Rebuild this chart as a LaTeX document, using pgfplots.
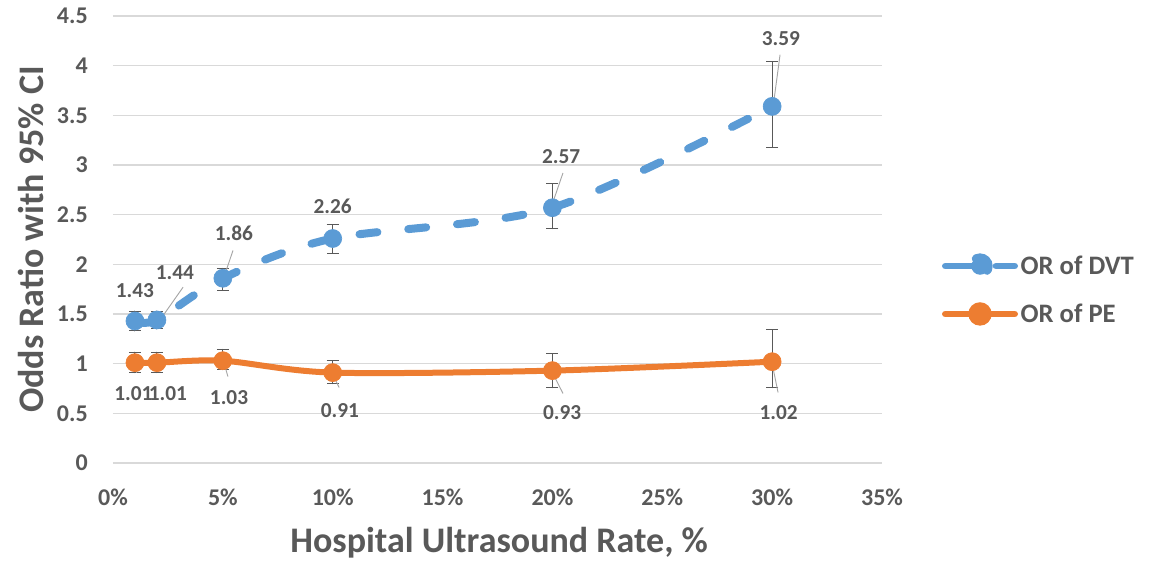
\documentclass[border=0pt]{standalone}
\usepackage{pgfplots}
\usepackage{pgfplotstable}
\pgfplotsset{compat=1.18}
\usepackage{fontspec}
\setmainfont{Carlito}
\definecolor{dvt}{HTML}{5B9BD5}
\definecolor{pe}{HTML}{ED7D31}
\definecolor{txt}{HTML}{595959}
\definecolor{gridc}{HTML}{D9D9D9}
\definecolor{errc}{HTML}{595959}
\definecolor{leader}{HTML}{A6A6A6}

\pgfplotstableread{
x  y    ep    em
1  1.43 0.10  0.10
2  1.44 0.09  0.09
5  1.86 0.10  0.12
10 2.26 0.14  0.15
20 2.57 0.24  0.21
30 3.59 0.45  0.41
}\dvtdata

\pgfplotstableread{
x  y    ep    em
1  1.01 0.105 0.10
2  1.01 0.105 0.10
5  1.03 0.115 0.09
10 0.91 0.12  0.11
20 0.93 0.17  0.17
30 1.02 0.32  0.26
}\pedata

\begin{document}
\begin{tikzpicture}
\useasboundingbox (-84.75pt,-76.5pt) rectangle (780pt,347.25pt);
\begin{axis}[
  at={(0,0)}, anchor=south west,
  scale only axis,
  width=576.75pt, height=335.25pt,
  xmin=0, xmax=35, ymin=0, ymax=4.5,
  xtick={0,5,...,35},
  ytick={0,0.5,...,4.5},
  xticklabel={\pgfmathprintnumber{\tick}\%},
  /pgf/number format/assume math mode=true,
  ymajorgrids,
  grid style={gridc, line width=1pt},
  axis line style={draw=none},
  tick style={draw=none},
  ticklabel style={font=\bfseries\fontsize{18}{21}\selectfont, text=txt},
  yticklabel style={anchor=east, inner sep=0pt, xshift=-18.75pt},
  xticklabel style={anchor=center, inner sep=0pt, yshift=-26pt},
  xlabel={Hospital Ultrasound Rate, \%},
  ylabel={Odds Ratio with 95\% CI},
  xlabel style={at={(axis description cs:0.502,-0.179)}, anchor=center, font=\bfseries\fontsize{27}{31}\selectfont, text=txt},
  ylabel style={at={(axis description cs:-0.106,0.5)}, anchor=center, font=\bfseries\fontsize{27}{31}\selectfont, text=txt},
  legend style={at={(1.0725,0.387)}, anchor=west, draw=none, fill=none,
    font=\bfseries\fontsize{20}{24}\selectfont, text=txt, row sep=16.5pt,
    nodes={inner sep=2pt}},
  legend cell align=left,
  clip=false,
]
\addplot[dvt, line width=6pt, line cap=round, dash pattern=on 13.5pt off 23.25pt, smooth, tension=0.5,
  mark=*, mark size=6.75pt, mark options={solid, fill=dvt, draw=dvt, line width=0.5pt},
  legend image code/.code={
    \draw[dvt, solid, line width=5pt, line cap=round] (0pt,0pt) -- (25pt,0pt);
    \draw[dvt, solid, line width=5pt, line cap=round] (38pt,0pt) -- (52pt,0pt);
    \fill[dvt] (26pt,0pt) circle (6.5pt);},
  error bars/.cd, y dir=both, y explicit,
  error bar style={errc, line width=0.75pt, solid},
  error mark options={rotate=90, errc, mark size=4.5pt, line width=0.75pt, solid}]
  table[x=x, y=y, y error plus=ep, y error minus=em] {\dvtdata};
\addlegendentry{OR of DVT}
\addplot[pe, line width=4.5pt, line cap=round, smooth, tension=0.5,
  mark=*, mark size=6.75pt, mark options={solid, fill=pe, draw=pe, line width=0.5pt},
  legend image code/.code={
    \draw[pe, solid, line width=5pt, line cap=round] (0pt,0pt) -- (52pt,0pt);
    \fill[pe] (26pt,0pt) circle (6.5pt);},
  error bars/.cd, y dir=both, y explicit,
  error bar style={errc, line width=0.75pt, solid},
  error mark options={rotate=90, errc, mark size=4.5pt, line width=0.75pt, solid}]
  table[x=x, y=y, y error plus=ep, y error minus=em] {\pedata};
\addlegendentry{OR of PE}

% leader lines
\draw[leader, line width=0.7pt] (axis cs:3.19,1.77) -- (axis cs:2.14,1.44);
\draw[leader, line width=0.7pt] (axis cs:5.46,2.14) -- (axis cs:5.05,1.87);
\draw[leader, line width=0.7pt] (axis cs:20.48,2.92) -- (axis cs:20.03,2.63);
\draw[leader, line width=0.7pt] (axis cs:30.36,4.11) -- (axis cs:30.04,3.58);
\draw[leader, line width=0.7pt] (axis cs:1.09,1.01) -- (axis cs:1.09,0.91);
\draw[leader, line width=0.7pt] (axis cs:5.05,1.01) -- (axis cs:5.23,0.87);
\draw[leader, line width=0.7pt] (axis cs:10.01,0.89) -- (axis cs:10.29,0.76);
\draw[leader, line width=0.7pt] (axis cs:19.98,0.92) -- (axis cs:20.48,0.70);
\draw[leader, line width=0.7pt] (axis cs:29.99,1.01) -- (axis cs:30.27,0.71);

% data labels
\begin{scope}[every node/.style={font=\bfseries\fontsize{16}{19}\selectfont, text=txt, inner sep=0pt}]
\node at (axis cs:1.0,1.74) {1.43};
\node at (axis cs:2.82,1.92) {1.44};
\node at (axis cs:5.5,2.31) {1.86};
\node at (axis cs:10.0,2.58) {2.26};
\node at (axis cs:20.4,3.08) {2.57};
\node at (axis cs:30.4,4.27) {3.59};
\node at (axis cs:0.93,0.70) {1.01};
\node at (axis cs:2.5,0.70) {1.01};
\node at (axis cs:5.28,0.66) {1.03};
\node at (axis cs:10.33,0.53) {0.91};
\node at (axis cs:20.44,0.51) {0.93};
\node at (axis cs:30.3,0.51) {1.02};
\end{scope}
\end{axis}
\end{tikzpicture}
\end{document}
